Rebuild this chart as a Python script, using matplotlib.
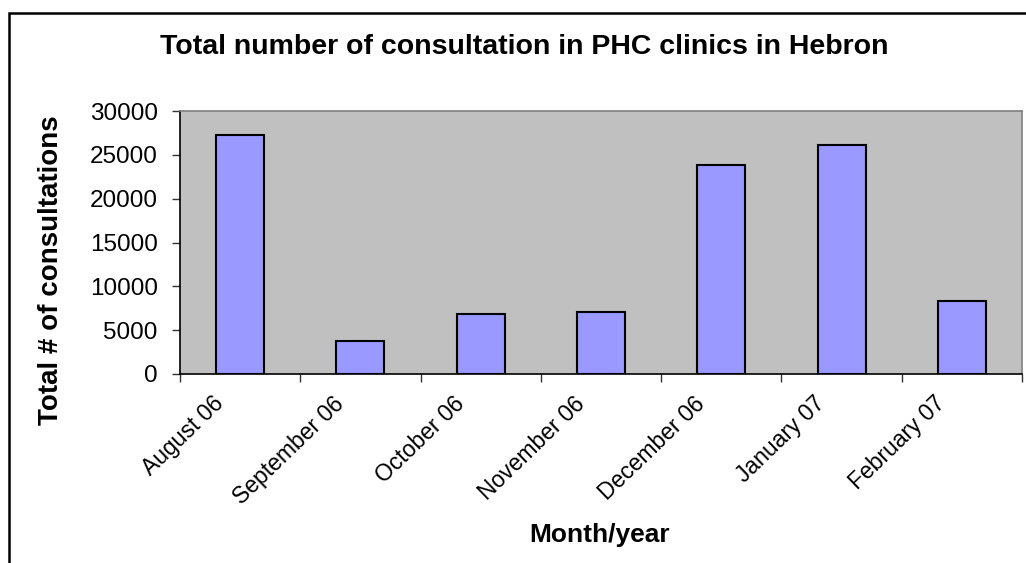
import matplotlib
matplotlib.use("Agg")
import matplotlib.pyplot as plt
import matplotlib.transforms as mtransforms
from matplotlib.patches import Rectangle
import numpy as np

plt.rcParams['font.family'] = ['Liberation Sans', 'DejaVu Sans']

# data
months = ['August 06', 'September 06', 'October 06', 'November 06',
          'December 06', 'January 07', 'February 07']
consultations = [27300, 3750, 6800, 7100, 23800, 26100, 8300]
y_ticks = [0, 5000, 10000, 15000, 20000, 25000, 30000]

fig = plt.figure(figsize=(10.26, 5.63), dpi=100)
ax = fig.add_axes([180 / 1026, 1 - 374 / 563, 842 / 1026, 263 / 563])

x = np.arange(len(months))
ax.bar(x, consultations, width=0.4, color='#9999FF', edgecolor='black',
       linewidth=1.5, zorder=3)

ax.set_facecolor('#C0C0C0')
ax.set_xlim(-0.5, len(months) - 0.5)
ax.set_ylim(0, 30000)
ax.set_yticks(y_ticks)
ax.set_yticklabels([str(v) for v in y_ticks], fontsize=17.5)

# boundary ticks, labels at category centres
ax.set_xticks(np.arange(-0.5, len(months), 1.0))
ax.set_xticklabels([])
ax.set_xticks(x, minor=True)
ax.set_xticklabels(months, minor=True, fontsize=16.5, rotation=44,
                   ha='right', va='center', rotation_mode='anchor')
ax.tick_params(axis='x', which='minor', length=0, pad=19)
ax.tick_params(axis='x', which='major', length=6, width=1, color='#333333',
               direction='out')
ax.tick_params(axis='y', length=6, width=1, color='#333333', pad=10)

shift = mtransforms.ScaledTranslation(-20 / 100, 0, fig.dpi_scale_trans)
for lab in ax.get_xticklabels(minor=True):
    lab.set_transform(lab.get_transform() + shift)

for side in ['top', 'right']:
    ax.spines[side].set_color('#808080')
    ax.spines[side].set_linewidth(1.2)
for side in ['left', 'bottom']:
    ax.spines[side].set_color('black')
    ax.spines[side].set_linewidth(1.2)

fig.text(524 / 1026, 1 - 54 / 563,
         'Total number of consultation in PHC clinics in Hebron',
         fontsize=20.5, fontweight='bold', ha='center', va='baseline')
fig.text(51 / 1026, 1 - 270 / 563, 'Total # of consultations',
         fontsize=20, fontweight='bold', rotation=90, ha='center', va='center')
fig.text(600 / 1026, 1 - 542 / 563, 'Month/year',
         fontsize=19, fontweight='bold', ha='center', va='baseline')

# chart border (runs off the right and bottom edges)
fig.patches.append(Rectangle((9 / 1026, -0.05), 1.1, 1.05 - 13 / 563,
                             transform=fig.transFigure, fill=False,
                             edgecolor='black', linewidth=1.8))

fig.savefig('out.png', dpi=100)
